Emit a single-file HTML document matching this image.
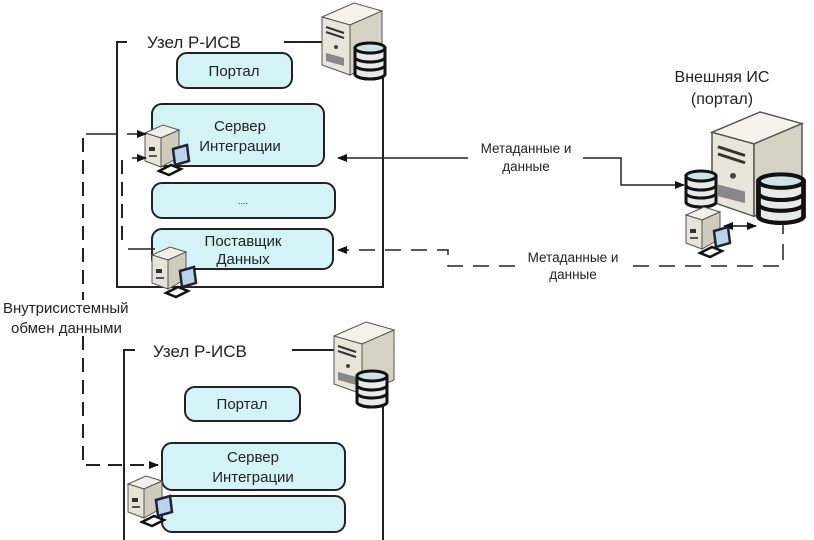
<!DOCTYPE html>
<html><head><meta charset="utf-8"><style>
html,body{margin:0;padding:0;background:#fff;}
svg{display:block;}
text{font-family:"Liberation Sans",sans-serif;fill:#222;}
</style></head><body>
<svg width="814" height="540" viewBox="0 0 814 540" xmlns="http://www.w3.org/2000/svg">
<defs>
<marker id="ah" markerWidth="10" markerHeight="8" refX="9" refY="4" orient="auto" markerUnits="userSpaceOnUse">
<path d="M0,0 L10,4 L0,8 z" fill="#111"/></marker>
<marker id="ahs" markerWidth="10" markerHeight="8" refX="1" refY="4" orient="auto" markerUnits="userSpaceOnUse">
<path d="M10,0 L0,4 L10,8 z" fill="#111"/></marker>
<g id="srv">
<polygon points="0,14 32,0 60,8 28,22" fill="#f4f2ea" stroke="#555" stroke-width="1"/>
<polygon points="0,14 28,22 28,72 0,62" fill="#e8e6da" stroke="#555" stroke-width="1"/>
<polygon points="28,22 60,8 60,58 28,72" fill="#d6d3c4" stroke="#555" stroke-width="1"/>
<path d="M4,24 L22,30 M4,29 L22,35" stroke="#333" stroke-width="2"/>
<circle cx="14" cy="44" r="2" fill="#444"/>
<rect x="4" y="50" width="18" height="8" fill="#888" transform="skewY(15)" transform-origin="4 50"/>
</g>
<g id="db">
<rect x="1" y="6" width="30" height="26" fill="#e8eaea" stroke="#111" stroke-width="3"/>
<path d="M1,15 A15,5 0 0 0 31,15 M1,23 A15,5 0 0 0 31,23" fill="none" stroke="#111" stroke-width="3"/>
<ellipse cx="16" cy="32" rx="15" ry="5" fill="#e8eaea" stroke="#111" stroke-width="3"/>
<rect x="2.5" y="6" width="27" height="26" fill="#e8eaea"/>
<path d="M1,6 V32 M31,6 V32 M1,15 A15,5 0 0 0 31,15 M1,23 A15,5 0 0 0 31,23 M1,32 A15,5 0 0 0 31,32" fill="none" stroke="#111" stroke-width="3"/>
<ellipse cx="16" cy="6" rx="15" ry="5" fill="#cfe3e6" stroke="#111" stroke-width="3"/>
</g>
<g id="pc">
<polygon points="0,8 18,0 34,5 16,13" fill="#f2f0e6" stroke="#555"/>
<polygon points="0,8 16,13 16,42 0,36" fill="#e6e4d8" stroke="#555"/>
<polygon points="16,13 34,5 34,32 16,42" fill="#cfccbd" stroke="#555"/>
<rect x="4" y="22" width="6" height="4" fill="#333"/>
<rect x="4" y="30" width="8" height="2" fill="#555"/>
<polygon points="28,24 42,20 44,36 30,40" fill="#b8d4e8" stroke="#223" stroke-width="2.5"/>
<polygon points="14,46 26,40 36,44 24,50" fill="#fff" stroke="#111" stroke-width="2.5"/>
</g>
</defs>

<!-- top node -->
<path d="M127,42 H117 V287 H383 V75" fill="none" stroke="#222" stroke-width="2"/>
<line x1="284" y1="42" x2="326" y2="42" stroke="#222" stroke-width="2"/>
<text x="147" y="48" font-size="17">Узел Р-ИСВ</text>
<use href="#srv" x="322" y="3"/>
<use href="#db" x="354" y="42"/>

<rect x="177" y="53" width="115" height="35" rx="10" fill="#d4f3f6" stroke="#222" stroke-width="2"/>
<text x="234" y="76" font-size="15" text-anchor="middle">Портал</text>
<rect x="152" y="104" width="172" height="62" rx="10" fill="#d4f3f6" stroke="#222" stroke-width="2"/>
<text x="240" y="131" font-size="15" text-anchor="middle">Сервер</text>
<text x="240" y="151" font-size="15" text-anchor="middle">Интеграции</text>
<rect x="152" y="183" width="183" height="35" rx="10" fill="#d4f3f6" stroke="#222" stroke-width="2"/>
<text x="243" y="204" font-size="9" fill="#777" text-anchor="middle">....</text>
<rect x="152" y="229" width="181" height="40" rx="10" fill="#d4f3f6" stroke="#222" stroke-width="2"/>
<text x="243" y="246" font-size="15" text-anchor="middle">Поставщик</text>
<text x="243" y="264" font-size="15" text-anchor="middle">Данных</text>
<use href="#pc" x="145" y="125"/>
<use href="#pc" x="152" y="247"/>

<!-- left connectors -->
<line x1="86" y1="134" x2="117" y2="134" stroke="#222" stroke-width="1.5"/>
<line x1="127" y1="134" x2="146" y2="134" stroke="#222" stroke-width="1.5" marker-end="url(#ah)"/>
<line x1="132" y1="158" x2="146" y2="158" stroke="#222" stroke-width="1.5" marker-end="url(#ah)"/>
<line x1="122" y1="160" x2="122" y2="246" stroke="#222" stroke-width="2" stroke-dasharray="14,8"/>
<line x1="128" y1="249" x2="155" y2="249" stroke="#222" stroke-width="1.5"/>
<line x1="83" y1="138" x2="83" y2="300" stroke="#222" stroke-width="2" stroke-dasharray="14,8"/>
<path d="M83,336 V465 H158" fill="none" stroke="#222" stroke-width="2" stroke-dasharray="14,8" marker-end="url(#ah)"/>
<text x="3" y="313" font-size="15">Внутрисистемный</text>
<text x="11" y="333" font-size="15">обмен данными</text>

<!-- right connectors -->
<line x1="468" y1="158" x2="338" y2="158" stroke="#222" stroke-width="1.5" marker-end="url(#ah)"/>
<path d="M583,158 H621 V185 H684" fill="none" stroke="#222" stroke-width="1.5" marker-end="url(#ah)"/>
<text x="526" y="153" font-size="13.5" text-anchor="middle">Метаданные и</text>
<text x="526" y="171" font-size="13.5" text-anchor="middle">данные</text>
<path d="M515,266 H448 V250 H338" fill="none" stroke="#222" stroke-width="1.5" stroke-dasharray="16,10" marker-end="url(#ah)"/>
<path d="M633,266 H783 V225" fill="none" stroke="#222" stroke-width="1.5" stroke-dasharray="16,10"/>
<text x="573" y="262" font-size="13.5" text-anchor="middle">Метаданные и</text>
<text x="573" y="279" font-size="13.5" text-anchor="middle">данные</text>

<!-- external IS -->
<text x="722" y="82" font-size="16" text-anchor="middle">Внешняя ИС</text>
<text x="722" y="104" font-size="16" text-anchor="middle">(портал)</text>
<use href="#srv" transform="translate(712,112) scale(1.5,1.45)"/>
<use href="#db" transform="translate(757,173) scale(1.5,1.35)"/>
<use href="#db" x="685" y="170"/>
<use href="#pc" x="686" y="207"/>
<line x1="724" y1="226" x2="756" y2="226" stroke="#111" stroke-width="1.5" marker-end="url(#ah)" marker-start="url(#ahs)"/>

<!-- bottom node -->
<path d="M135,350 H124 V540 M383,405 V540" fill="none" stroke="#222" stroke-width="2"/>
<line x1="292" y1="350" x2="336" y2="350" stroke="#222" stroke-width="2"/>
<text x="153" y="357" font-size="17">Узел Р-ИСВ</text>
<use href="#srv" x="334" y="322"/>
<use href="#db" x="356" y="370"/>
<rect x="185" y="387" width="115" height="34" rx="10" fill="#d4f3f6" stroke="#222" stroke-width="2"/>
<text x="242" y="409" font-size="15" text-anchor="middle">Портал</text>
<rect x="162" y="443" width="183" height="47" rx="10" fill="#d4f3f6" stroke="#222" stroke-width="2"/>
<text x="253" y="462" font-size="15" text-anchor="middle">Сервер</text>
<text x="253" y="482" font-size="15" text-anchor="middle">Интеграции</text>
<rect x="162" y="496" width="183" height="36" rx="10" fill="#d4f3f6" stroke="#222" stroke-width="2"/>
<use href="#pc" x="128" y="476"/>
</svg>
</body></html>
